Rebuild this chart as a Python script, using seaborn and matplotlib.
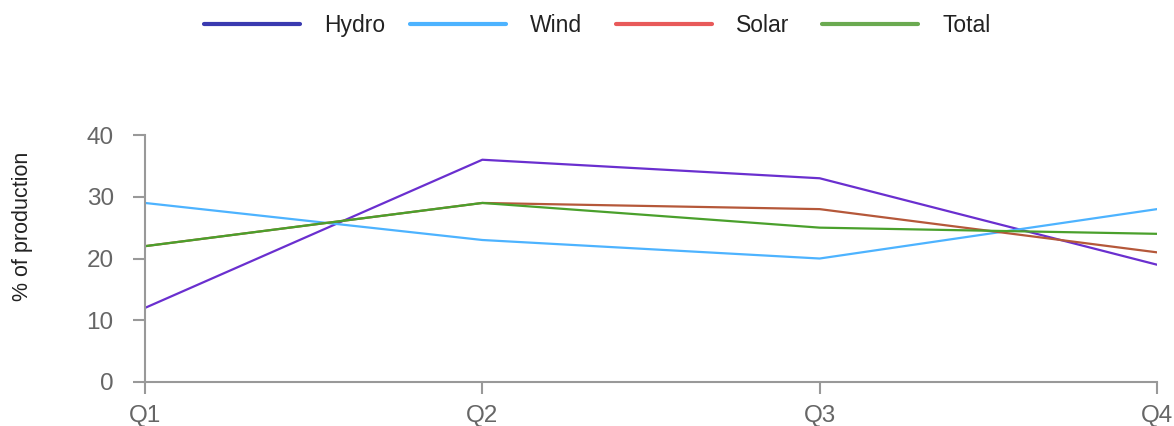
import matplotlib
matplotlib.use("Agg")
import matplotlib.pyplot as plt
from matplotlib.lines import Line2D
import seaborn as sns
import pandas as pd

quarters = ["Q1", "Q2", "Q3", "Q4"]
hydro = [12, 36, 33, 19]
wind = [29, 23, 20, 28]
solar = [22, 29, 28, 21]
total = [22, 29, 25, 24]
series_names = ["Hydro", "Wind", "Solar", "Total"]
line_colors = ["#6a2fcf", "#4db3ff", "#b5583a", "#4aa02c"]
legend_colors = ["#3a3ab0", "#4db3ff", "#e85a5a", "#6aaa50"]

sns.set_theme(style="white")
plt.rcParams['font.family'] = ['Liberation Sans', 'DejaVu Sans']

rows = []
for name, vals in zip(series_names, [hydro, wind, solar, total]):
    for i, (q, v) in enumerate(zip(quarters, vals)):
        rows.append({"pos": i, "quarter": q, "value": v, "series": name})
df = pd.DataFrame(rows)

fig = plt.figure(figsize=(11.74, 4.26), dpi=100)
ax = fig.add_axes([0.1235, 0.1033, 0.862, 0.5797])
sns.lineplot(data=df, x="pos", y="value", hue="series", hue_order=series_names,
             palette=dict(zip(series_names, line_colors)), linewidth=1.6,
             ax=ax, legend=False)

ax.set_xlim(0, 3)
ax.set_ylim(0, 40)
ax.set_xticks(range(4))
ax.set_xticklabels(quarters)
ax.set_yticks([0, 10, 20, 30, 40])
ax.set_xlabel("")
ax.set_ylabel("% of production", fontsize=15.5, color="#222222")
ax.yaxis.set_label_coords(-0.111, 0.63)
for s in ["top", "right"]:
    ax.spines[s].set_visible(False)
for s in ["left", "bottom"]:
    ax.spines[s].set_color("#999999")
    ax.spines[s].set_linewidth(1.5)
ax.tick_params(axis="both", which="both", direction="out", length=8.5, width=1.5,
               color="#999999", labelcolor="#666666", labelsize=17.5, bottom=True, left=True)
ax.tick_params(axis="x", pad=8)
ax.tick_params(axis="y", pad=14)
for sp in ax.spines.values():
    sp.set_clip_on(False)

# legend with equal-width columns above the plot
col_width = 206 / 1174
start = 204 / 1174
for i, (name, c) in enumerate(zip(series_names, legend_colors)):
    h = Line2D([0], [0], color=c, linewidth=3)
    fig.legend([h], [name], loc="center left",
               bbox_to_anchor=(start + i * col_width, 0.939),
               frameon=False, fontsize=16.5, handlelength=4.2,
               handletextpad=1.05, borderpad=0, borderaxespad=0,
               labelcolor="#222222")

fig.savefig("out.png", dpi=100)
